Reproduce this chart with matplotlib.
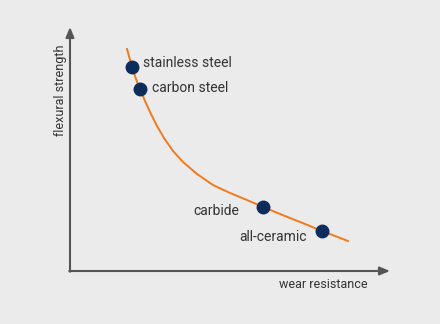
import numpy as np
import matplotlib.pyplot as plt

plt.rcParams['font.family'] = ['Roboto', 'DejaVu Sans']

# trade-off curve, arbitrary units (wear resistance vs flexural strength)
curve_x = [57, 62, 66, 70, 75, 80, 87, 94, 103, 113, 127, 143, 160, 177, 193, 215, 235, 252, 278]
curve_y = [222, 204, 192, 182, 170, 159, 145, 133, 120, 109, 97, 86, 78, 71, 64, 55, 47, 40, 30]

materials = ['stainless steel', 'carbon steel', 'carbide', 'all-ceramic']
mat_x = [62, 70, 193, 252]
mat_y = [204, 182, 64, 40]

bg = '#ebebeb'
axis_col = '#555555'
text_col = '#333333'

fig = plt.figure(figsize=(4.4, 3.24), dpi=100, facecolor=bg)
ax = fig.add_axes([0, 0, 1, 1], facecolor=bg)
ax.set_xlim(-70, 370)
ax.set_ylim(-53, 271)
ax.axis('off')

# axes with arrow heads
arrow = dict(arrowstyle='-|>,head_length=0.6,head_width=0.25', color=axis_col,
             lw=1.5, shrinkA=0, shrinkB=0)
ax.annotate('', xy=(320, 0), xytext=(-0.75, 0), arrowprops=arrow)
ax.annotate('', xy=(0, 244), xytext=(0, -0.75), arrowprops=arrow)

ax.text(298, -14, 'wear resistance', ha='right', va='center', fontsize=9, color=text_col)
ax.text(-10, 226, 'flexural strength', ha='center', va='top', rotation=90,
        fontsize=9, color=text_col)

ax.plot(curve_x, curve_y, color='#f07a1c', lw=1.4, solid_joinstyle='round')
ax.plot(mat_x, mat_y, 'o', color='#0c2d5c', markersize=9, zorder=3)

offsets = [(11, 4, 'left'), (12, 1, 'left'), (-24, -4, 'right'), (-15, -6, 'right')]
for name, x, y, (dx, dy, ha) in zip(materials, mat_x, mat_y, offsets):
    ax.text(x + dx, y + dy, name, ha=ha, va='center', fontsize=10, color=text_col)

fig.savefig('out.png', dpi=100, facecolor=bg)
